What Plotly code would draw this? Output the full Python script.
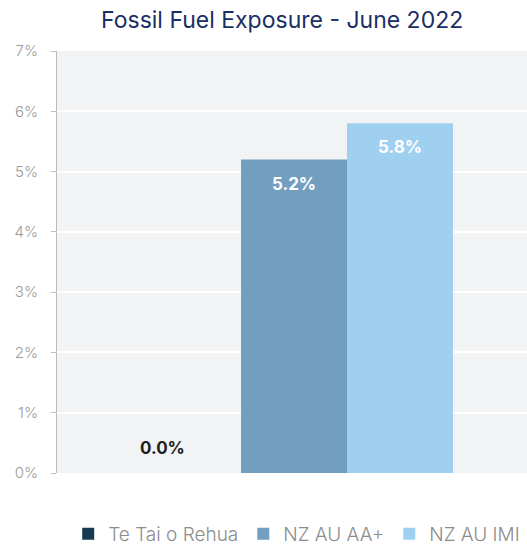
import plotly.graph_objects as go

series = ["Te Tai o Rehua", "NZ AU AA+", "NZ AU IMI"]
values = [0.0, 5.2, 5.8]
colors = ["#163a50", "#729fc0", "#a0d0f0"]
tick_vals = [0, 1, 2, 3, 4, 5, 6, 7]
tick_text = ["0%", "1%", "2%", "3%", "4%", "5%", "6%", "7%"]

FONT = "Inter"

fig = go.Figure()
for name, v, c in zip(series, values, colors):
    fig.add_trace(go.Bar(
        x=[name], y=[v], name=name, marker_color=c, marker_line_width=0,
        width=1, hoverinfo="skip",
    ))
    outside = v < 0.5
    fig.add_annotation(
        x=name, y=v, xref="x", yref="y", text=f"{v:.1f}%", showarrow=False,
        yanchor="middle", yshift=25 if outside else -24,
        xshift=-26 if outside else 0,
        font=dict(family=FONT, size=17, weight="bold",
                  color="#222222" if outside else "#ffffff"),
    )

fig.update_layout(
    width=527, height=545,
    margin=dict(l=57, r=0, t=51, b=72, autoexpand=False),
    paper_bgcolor="white", plot_bgcolor="#f2f3f5",
    barmode="overlay",
    title=dict(text="Fossil Fuel Exposure - June 2022", x=0.479, xanchor="center",
               xref="paper", y=0.963, yanchor="middle",
               font=dict(family=FONT, size=23, color="#1a2f63")),
    showlegend=True,
    legend=dict(orientation="h", x=0.51, xanchor="center", y=-0.1445, yanchor="middle",
                font=dict(family=FONT, size=19, weight=300, color="#8c8c8c"),
                traceorder="normal", itemwidth=30),
)
fig.update_xaxes(range=[-1.236, 3.198], showticklabels=False, showgrid=False,
                 zeroline=False, showline=False)
fig.update_yaxes(range=[0, 7], tickvals=tick_vals, ticktext=tick_text,
                 showgrid=True, gridcolor="white", gridwidth=2, zeroline=False,
                 showline=True, linecolor="#bdbdbd", linewidth=1,
                 ticks="outside", ticklen=5, tickcolor="#bdbdbd",
                 ticklabelstandoff=10,
                 tickfont=dict(family=FONT, size=15, weight=300, color="#9a9a9a"))

fig.write_html("out.html")
